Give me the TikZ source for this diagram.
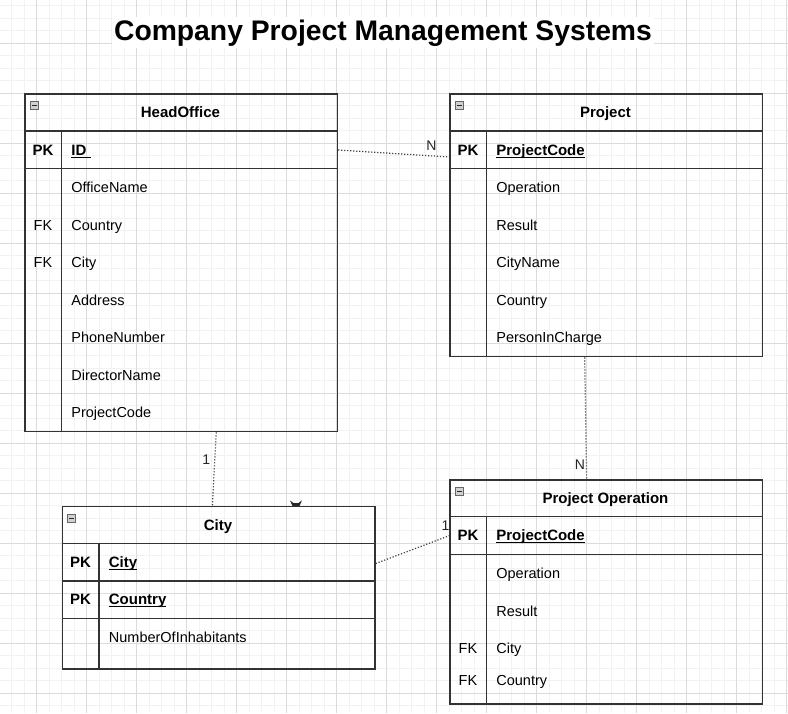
\documentclass[tikz,border=0pt]{standalone}
\usepackage{fontspec}
\setmainfont{Liberation Sans}
\usetikzlibrary{calc,positioning}

\newcommand\keyname[1]{\sbox0{#1}\rlap{\rule[-2.2pt]{\wd0}{1.1pt}}\usebox0}

\tikzset{
  gridminor/.style={line width=1pt,black!5},
  gridmajor/.style={line width=1pt,black!14},
  tablebox/.style={draw=black!80,line width=1.5pt,inner sep=0pt,anchor=north west,minimum width=312.5pt},
  tableline/.style={black!80,line width=1.5pt},
  headtext/.style={inner sep=0pt,text height=10.8pt,text depth=0pt,font=\bfseries\fontsize{15}{18}\selectfont},
  keytext/.style={inner sep=0pt,text height=10.4pt,text depth=0pt,font=\fontsize{14.5}{17}\selectfont},
  pktext/.style={keytext,text height=10.8pt,font=\bfseries\fontsize{15}{18}\selectfont},
  fieldtext/.style={keytext,anchor=west},
  pkfield/.style={pktext,anchor=west},
  collapsebox/.style={draw=black!60,fill=blue!8!black!18,line width=0.9pt},
  collapsebar/.style={black!85,line width=1.3pt},
  relation/.style={black!75,line width=1.2pt,dash pattern=on 1.2pt off 1.8pt},
  cardlabel/.style={inner sep=0pt,text height=10pt,text depth=0pt,black!85,font=\fontsize{14}{16}\selectfont}
}

\begin{document}
\begin{tikzpicture}[x=1pt,y=-1pt]
  \useasboundingbox (0,0) rectangle (788,713);
  \fill[white] (0,0) rectangle (788,713);

  % grid
  \foreach \i in {0,...,62}
    \draw[gridminor] (11.7+12.5*\i,0) -- (11.7+12.5*\i,713);
  \foreach \i in {0,...,56}
    \draw[gridminor] (0,5.8+12.5*\i) -- (788,5.8+12.5*\i);
  \foreach \i in {0,...,15}
    \draw[gridmajor] (36.7+50*\i,0) -- (36.7+50*\i,713);
  \foreach \i in {0,...,13}
    \draw[gridmajor] (0,43.3+50*\i) -- (788,43.3+50*\i);

  \node[fill=white,inner sep=2pt,anchor=base,font=\bfseries\fontsize{28.3}{33}\selectfont]
  (Title) at (383,40) {Company Project Management Systems};

  % HeadOffice
  \node[tablebox,minimum height=337.5pt] (HeadOffice) at (24.2,93.3) {};
  \draw[tableline] (24.2,130.8) -- (336.7,130.8);
  \draw[tableline] (24.2,168.3) -- (336.7,168.3);
  \draw[tableline] (61.7,130.8) -- (61.7,430.8);
  \draw[collapsebox] (30.7,101.8) rectangle ++(8,8);
  \draw[collapsebar] (32.2,105.8) -- ++(5,0);
  \node[headtext] (hoTitle) at (180.45,112.5) {HeadOffice};
  \node[pktext] (hoPK) at (42.95,150) {PK};
  \node[pkfield] (hoID) at (71.2,150) {\keyname{ID\ }};
  \node[fieldtext] (hoName) at (71.2,187.5) {OfficeName};
  \node[keytext] (hoFK1) at (42.95,225) {FK};
  \node[fieldtext] (hoCountry) at (71.2,225) {Country};
  \node[keytext] (hoFK2) at (42.95,262.5) {FK};
  \node[fieldtext] (hoCity) at (71.2,262.5) {City};
  \node[fieldtext] (hoAddress) at (71.2,300) {Address};
  \node[fieldtext] (hoPhone) at (71.2,337.5) {PhoneNumber};
  \node[fieldtext] (hoDirector) at (71.2,375) {DirectorName};
  \node[fieldtext] (hoProject) at (71.2,412.5) {ProjectCode};

  % Project
  \node[tablebox,minimum height=262.5pt] (Project) at (449.2,93.3) {};
  \draw[tableline] (449.2,130.8) -- (761.7,130.8);
  \draw[tableline] (449.2,168.3) -- (761.7,168.3);
  \draw[tableline] (486.7,130.8) -- (486.7,355.8);
  \draw[collapsebox] (455.7,101.8) rectangle ++(8,8);
  \draw[collapsebar] (457.2,105.8) -- ++(5,0);
  \node[headtext] (prTitle) at (605.45,112.5) {Project};
  \node[pktext] (prPK) at (467.95,150) {PK};
  \node[pkfield] (prCode) at (496.2,150) {\keyname{ProjectCode}};
  \node[fieldtext] (prOperation) at (496.2,187.5) {Operation};
  \node[fieldtext] (prResult) at (496.2,225) {Result};
  \node[fieldtext] (prCity) at (496.2,262.5) {CityName};
  \node[fieldtext] (prCountry) at (496.2,300) {Country};
  \node[fieldtext] (prPerson) at (496.2,337.5) {PersonInCharge};

  % City
  \fill[black!85] (290,500.5) -- (293.5,503) -- (298.5,503) -- (302,500.3)
  -- (299.5,506) -- (292.5,506) -- cycle;
  \node[tablebox,minimum height=162.5pt] (City) at (61.7,505.8) {};
  \draw[tableline] (61.7,543.3) -- (374.2,543.3);
  \draw[tableline] (61.7,580.8) -- (374.2,580.8);
  \draw[tableline] (61.7,618.3) -- (374.2,618.3);
  \draw[tableline] (99.2,543.3) -- (99.2,668.3);
  \draw[collapsebox] (67.7,514.3) rectangle ++(8,8);
  \draw[collapsebar] (69.2,518.3) -- ++(5,0);
  \node[headtext] (ciTitle) at (217.95,525) {City};
  \node[pktext] (ciPK1) at (80.45,562) {PK};
  \node[pkfield] (ciCity) at (108.7,562) {\keyname{City}};
  \node[pktext] (ciPK2) at (80.45,599.5) {PK};
  \node[pkfield] (ciCountry) at (108.7,599.5) {\keyname{Country}};
  \node[fieldtext] (ciNumber) at (108.7,637) {NumberOfInhabitants};

  % Project Operation
  \node[tablebox,minimum height=224.3pt] (ProjectOperation) at (449.2,479) {};
  \draw[tableline] (449.2,516.7) -- (761.7,516.7);
  \draw[tableline] (449.2,554.3) -- (761.7,554.3);
  \draw[tableline] (486.7,516.7) -- (486.7,703.3);
  \draw[collapsebox] (455.7,487.5) rectangle ++(8,8);
  \draw[collapsebar] (457.2,491.5) -- ++(5,0);
  \node[headtext] (poTitle) at (605.45,498) {Project Operation};
  \node[pktext] (poPK) at (467.95,535.5) {PK};
  \node[pkfield] (poCode) at (496.2,535.5) {\keyname{ProjectCode}};
  \node[fieldtext] (poOperation) at (496.2,573.5) {Operation};
  \node[fieldtext] (poResult) at (496.2,611) {Result};
  \node[keytext] (poFK1) at (467.95,648) {FK};
  \node[fieldtext] (poCity) at (496.2,648) {City};
  \node[keytext] (poFK2) at (467.95,680) {FK};
  \node[fieldtext] (poCountry) at (496.2,680) {Country};

  % relations
  \draw[relation] (HeadOffice.east |- hoPK)
  -- node[cardlabel,pos=0.84,above=5pt] {N} ($(Project.west |- prPK)+(0,7)$);
  \draw[relation] ($(HeadOffice.south)+(35,0)$)
  -- node[cardlabel,pos=0.37,left=4pt] {1} ($(City.north)+(-6.3,0)$);
  \draw[relation] ($(Project.south)+(-21.5,0)$)
  -- node[cardlabel,pos=0.88,left=1pt] {N} ($(ProjectOperation.north)+(-19.5,0)$);
  \draw[relation] ($(City.east)+(0,-24.3)$)
  -- node[cardlabel,pos=0.95,above=6pt] {1} ($(ProjectOperation.west)+(0,-56.2)$);
\end{tikzpicture}
\end{document}
